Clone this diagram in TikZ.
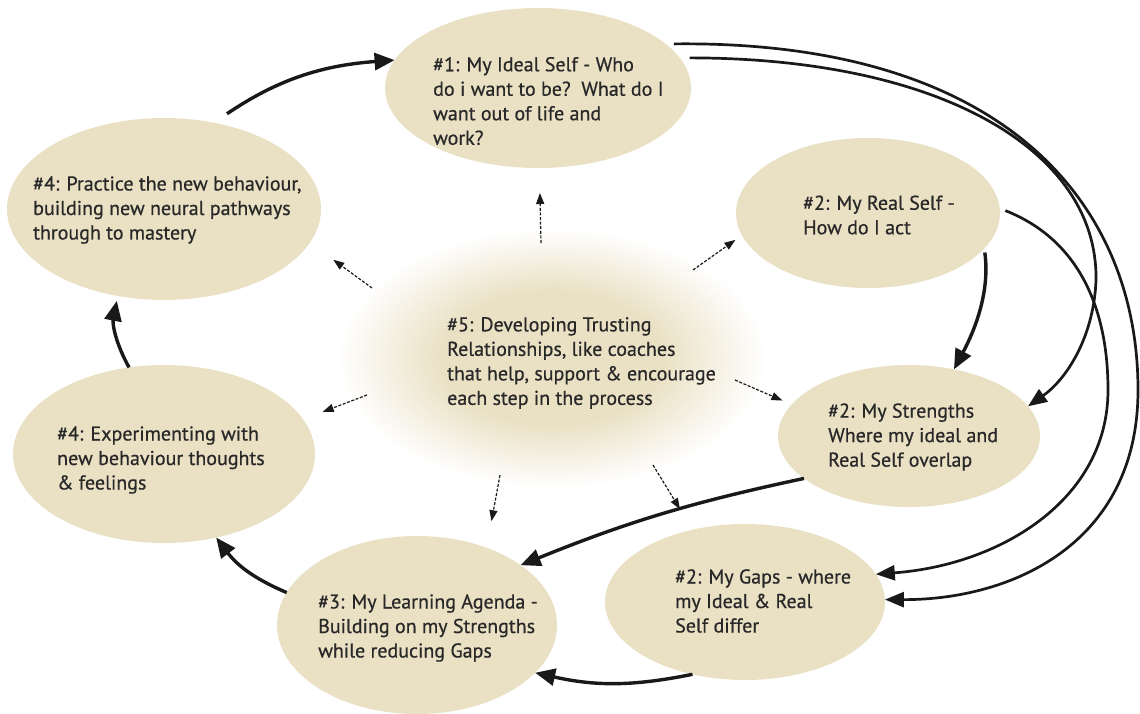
\documentclass[tikz,border=0pt]{standalone}
\usepackage{fontspec}
\setmainfont{PT Sans}
\newfontfamily\lblfont{PT Sans}[FakeBold=0.6]
\usetikzlibrary{shapes.geometric,arrows.meta}
\definecolor{bub}{RGB}{234,225,197}
\definecolor{txtc}{RGB}{40,40,40}
\definecolor{arr}{RGB}{25,25,25}
\pgfdeclareradialshading{fuzz}{\pgfpoint{0bp}{0bp}}{color(0bp)=(bub); color(13bp)=(bub); color(25bp)=(white); color(50bp)=(white)}
\begin{document}
\begin{tikzpicture}[x=1pt,y=-1pt,
  bubble/.style={ellipse, fill=bub, inner sep=0pt, outer sep=0pt},
  lbl/.style={anchor=west, align=left, inner sep=0pt, text=txtc, font=\lblfont\fontsize{20}{24.5}\selectfont},
  flow/.style={line width=3.4pt, draw=arr, -{Triangle[length=20pt,width=17pt]}},
  bigarc/.style={line width=2.7pt, draw=arr, -{Triangle[length=19pt,width=15pt]}},
  dsh/.style={line width=1.2pt, draw=arr, dash pattern=on 3pt off 1.6pt, -{Triangle[length=11pt,width=8pt]}}
]
\useasboundingbox (0,0) rectangle (1140,713);
\fill[white] (0,0) rectangle (1140,713);

% bubbles
\node[ellipse, shading=fuzz, inner sep=0pt, outer sep=0pt, minimum width=430pt, minimum height=260pt] (c) at (552,358) {};
\node[bubble, minimum width=306pt, minimum height=160pt] (ideal) at (538,88) {};
\node[bubble, minimum width=314pt, minimum height=182pt] (practice) at (164,209) {};
\node[bubble, minimum width=264pt, minimum height=150pt] (real) at (868,213) {};
\node[bubble, minimum width=262pt, minimum height=142pt] (strengths) at (909,436) {};
\node[bubble, minimum width=302pt, minimum height=178pt] (experiment) at (164,454) {};
\node[bubble, minimum width=280pt, minimum height=156pt] (gaps) at (745,602) {};
\node[bubble, minimum width=280pt, minimum height=178pt] (learning) at (417,625) {};

% texts
\node[lbl] (t-ideal) at (433,101) {\#1: My Ideal Self - Who\\do i want to be?~~What do I\\want out of life and\\work?};
\node[lbl] (t-practice) at (33,210) {\#4: Practice the new behaviour,\\building new neural pathways\\through to mastery};
\node[lbl] (t-real) at (803,215) {\#2: My Real Self -\\How do I act};
\node[lbl] (t-c) at (447,363) {\#5: Developing Trusting\\Relationships, like coaches\\that help, support \& encourage\\each step in the process};
\node[lbl] (t-strengths) at (828,437) {\#2: My Strengths\\Where my ideal and\\Real Self overlap};
\node[lbl] (t-experiment) at (57,460) {\#4: Experimenting with\\new behaviour thoughts\\\& feelings};
\node[lbl] (t-gaps) at (675,601) {\#2: My Gaps - where\\my Ideal \& Real\\Self differ};
\node[lbl] (t-learning) at (318,628) {\#3: My Learning Agenda -\\Building on my Strengths\\while reducing Gaps};

% starting points of the dashed arrows, inside the central blob
\coordinate (c-u) at (541,243);
\coordinate (c-ul) at (372,288);
\coordinate (c-ur) at (693,270);
\coordinate (c-r) at (735,380);
\coordinate (c-l) at (367,395);
\coordinate (c-dl) at (500,475);
\coordinate (c-dr) at (653,465);

% dashed arrows from the centre
\draw[dsh, shorten >=25pt] (c-u) -- (ideal.-89);
\draw[dsh, shorten >=29pt] (c-ul) -- (practice.-13);
\draw[dsh, shorten >=8pt] (c-ur) -- (real.190);
\draw[dsh, shorten >=10pt] (c-r) -- (strengths.165);
\draw[dsh, shorten >=21pt] (c-l) -- (experiment.14);
\draw[dsh, shorten >=27pt] (c-dl) -- (learning.48);
\draw[dsh, shorten >=24pt] (c-dr) -- (gaps.126);

% solid arrows
\draw[flow, shorten <=16pt] (practice.60) to[bend left=15] (ideal.169);
\draw[bigarc, shorten <=8pt] (ideal.19) .. controls (1000,40) and (1138,200) .. (1138,390) .. controls (1138,545) and (1010,600) .. (gaps.1);
\draw[bigarc, shorten <=10pt] (ideal.12) .. controls (940,58) and (1098,150) .. (1096,280) .. controls (1094,335) and (1068,378) .. (strengths.14);
\draw[bigarc, shorten <=6pt] (real.2) .. controls (1080,240) and (1108,310) .. (1108,390) .. controls (1108,500) and (1000,565) .. (gaps.12);
\draw[flow, shorten <=4pt] (real.-17) to[out=-82,in=62,looseness=0.9] (strengths.56);
\draw[flow] (strengths.202) to[bend right=5] (learning.30);
\draw[flow] (gaps.234) to[bend left=12] (learning.-22);
\draw[flow] (learning.166) to[bend left=15] (experiment.-58);
\draw[flow, shorten >=5pt] (experiment.112) to[bend left=20] (practice.242);
\end{tikzpicture}
\end{document}
